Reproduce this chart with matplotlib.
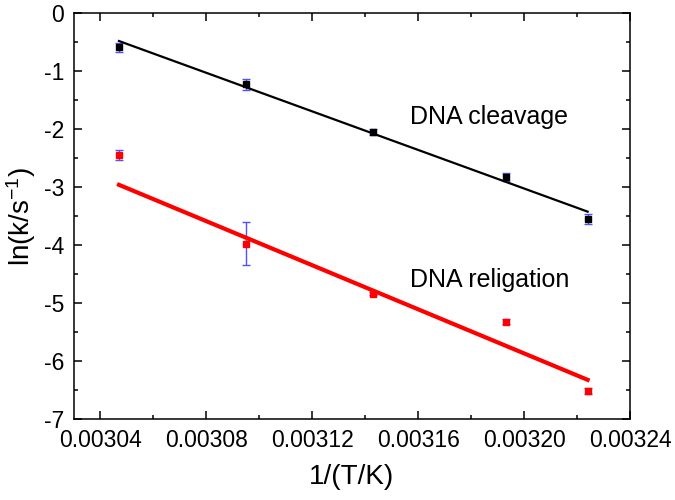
import numpy as np
import matplotlib
matplotlib.use("Agg")
from matplotlib import pyplot as plt
from matplotlib.ticker import MultipleLocator, FormatStrFormatter

plt.rcParams['font.family'] = ['Liberation Sans', 'DejaVu Sans']
plt.rcParams['mathtext.default'] = 'regular'

# 1/T for the five temperatures
inv_t = [0.003047, 0.003095, 0.003143, 0.003193, 0.003224]

# DNA cleavage
ln_k_cleave = [-0.59, -1.23, -2.05, -2.83, -3.55]
err_cleave = [0.08, 0.10, 0.05, 0.07, 0.08]

# DNA religation
ln_k_relig = [-2.45, -3.98, -4.84, -5.32, -6.52]
err_relig = [0.09, 0.37, 0.03, 0.05, 0.05]

# linear fits (slope, intercept) as drawn in the figure
fit_cleave = (-16620.0, 50.158)
fit_relig = (-18994.0, 54.912)

err_color = "#5050ff"

fig = plt.figure(figsize=(6.75, 5.0), dpi=100)
ax = fig.add_axes([0.1096, 0.162, 0.8237, 0.812])

ax.errorbar(inv_t, ln_k_cleave, yerr=err_cleave, fmt="s", color="black", ms=4.5,
            ecolor=err_color, elinewidth=1, capsize=3, capthick=1, zorder=3)
ax.errorbar(inv_t, ln_k_relig, yerr=err_relig, fmt="s", color="red", ms=4.5,
            ecolor=err_color, elinewidth=1, capsize=3, capthick=1, zorder=3)

xfit = np.array([inv_t[0], inv_t[-1]])
ax.plot(xfit, fit_cleave[0] * xfit + fit_cleave[1], color="black", lw=1.6, zorder=4)
ax.plot(xfit, fit_relig[0] * xfit + fit_relig[1], color="red", lw=3, zorder=4)

ax.text(0.003157, -1.914, "DNA cleavage", fontsize=18, va="baseline", ha="left")
ax.text(0.003157, -4.724, "DNA religation", fontsize=18, va="baseline", ha="left")

ax.set_xlim(0.00303, 0.00324)
ax.set_ylim(-7, 0)
ax.xaxis.set_major_locator(MultipleLocator(0.00004))
ax.xaxis.set_minor_locator(MultipleLocator(0.00002))
ax.yaxis.set_major_locator(MultipleLocator(1))
ax.yaxis.set_minor_locator(MultipleLocator(0.5))
ax.xaxis.set_major_formatter(FormatStrFormatter("%.5f"))
ax.yaxis.set_major_formatter(FormatStrFormatter("%d"))

ax.tick_params(which="both", direction="in", top=True, right=True, width=1.1)
ax.tick_params(which="major", length=6, labelsize=16.5, pad=7)
ax.tick_params(which="minor", length=3)
for s in ax.spines.values():
    s.set_linewidth(1.1)

ax.set_xlabel("1/(T/K)", fontsize=20, labelpad=9)
ax.set_ylabel(r"ln(k/s$^{-1}$)", fontsize=20, labelpad=4)

fig.savefig("out.png", dpi=100)
